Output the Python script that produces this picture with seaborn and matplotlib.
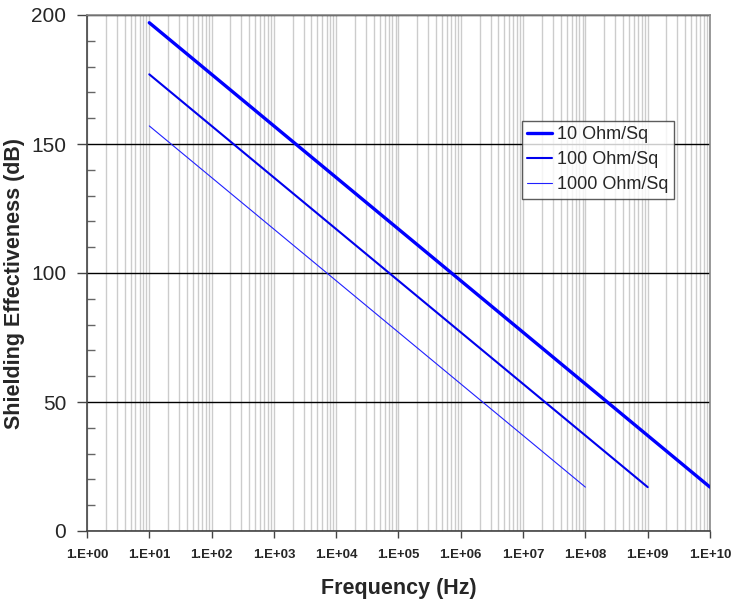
import numpy as np
import pandas as pd
import matplotlib
matplotlib.use("Agg")
import matplotlib.pyplot as plt
import seaborn as sns
from matplotlib.ticker import LogLocator, FixedLocator, NullFormatter, MultipleLocator

# Data (frequency in Hz, shielding effectiveness in dB)
freq_10 = [1e1, 1e2, 1e3, 1e4, 1e5, 1e6, 1e7, 1e8, 1e9, 1e10]
se_10 = [197, 177, 157, 137, 117, 97, 77, 57, 37, 17]
freq_100 = [1e1, 1e2, 1e3, 1e4, 1e5, 1e6, 1e7, 1e8, 1e9]
se_100 = [177, 157, 137, 117, 97, 77, 57, 37, 17]
freq_1000 = [1e1, 1e2, 1e3, 1e4, 1e5, 1e6, 1e7, 1e8]
se_1000 = [157, 137, 117, 97, 77, 57, 37, 17]
series_names = ["10 Ohm/Sq", "100 Ohm/Sq", "1000 Ohm/Sq"]
x_tick_labels = ["1.E+00", "1.E+01", "1.E+02", "1.E+03", "1.E+04", "1.E+05",
                 "1.E+06", "1.E+07", "1.E+08", "1.E+09", "1.E+10"]
y_ticks = [0, 50, 100, 150, 200]

sns.set_style("white")
plt.rcParams['font.family'] = ['Liberation Sans', 'DejaVu Sans']

fig = plt.figure(figsize=(7.31, 5.99), dpi=100)
ax = fig.add_axes([87/731, 1 - 531/599, 623/731, 516/599])

frames = [
    pd.DataFrame({"f": freq_10, "se": se_10, "s": series_names[0]}),
    pd.DataFrame({"f": freq_100, "se": se_100, "s": series_names[1]}),
    pd.DataFrame({"f": freq_1000, "se": se_1000, "s": series_names[2]}),
]
widths = [2.4, 1.5, 0.8]
colors = ["#0000ff", "#0000ee", "#2020ff"]
for df, w, c, name in zip(frames, widths, colors, series_names):
    sns.lineplot(data=df, x="f", y="se", ax=ax, color=c, linewidth=w,
                 label=name, zorder=5)

ax.set_xscale("log")
ax.set_xlim(1, 1e10)
ax.set_ylim(0, 200)

# grids
ax.xaxis.set_major_locator(FixedLocator([10.0**k for k in range(11)]))
ax.xaxis.set_minor_locator(LogLocator(base=10, subs=np.arange(2, 10), numticks=100))
ax.xaxis.set_minor_formatter(NullFormatter())
ax.set_xticklabels(x_tick_labels)
ax.grid(True, which="both", axis="x", color="#cccccc", linewidth=1.0, zorder=1)
ax.set_yticks(y_ticks)
ax.yaxis.set_minor_locator(MultipleLocator(10))
ax.grid(True, which="major", axis="y", color="black", linewidth=1.0, zorder=2)
ax.set_axisbelow(True)

ax.tick_params(axis="x", which="major", bottom=True, direction="out", length=5, width=1,
               color="#444444", labelsize=9.5, pad=8)
ax.tick_params(axis="x", which="minor", bottom=False, length=0)
for lab in ax.get_xticklabels():
    lab.set_fontweight("bold")
ax.tick_params(axis="y", which="major", left=True, direction="out", length=7, width=1,
               color="#444444", labelsize=15, pad=8)
ax.tick_params(axis="y", which="minor", left=True, direction="in", length=6, width=1,
               color="#666666")

for side in ["top", "right"]:
    ax.spines[side].set_color("#888888")
    ax.spines[side].set_linewidth(1.2)
for side in ["left", "bottom"]:
    ax.spines[side].set_color("#444444")
    ax.spines[side].set_linewidth(1.2)

ax.set_xlabel("Frequency (Hz)", fontsize=15.5, fontweight="bold", labelpad=12)
ax.set_ylabel("Shielding Effectiveness (dB)", fontsize=15.5, fontweight="bold")
ax.yaxis.set_label_coords(-0.099, 0.48)

leg = ax.legend(loc="upper left", bbox_to_anchor=(0.698, 0.795), borderaxespad=0,
                fontsize=13, frameon=True, fancybox=False, handlelength=1.35,
                handletextpad=0.3, borderpad=0.3, labelspacing=0.45)
leg.get_frame().set_edgecolor("#333333")
leg.get_frame().set_linewidth(1.0)
leg.set_zorder(10)

fig.savefig("out.png", dpi=100)
